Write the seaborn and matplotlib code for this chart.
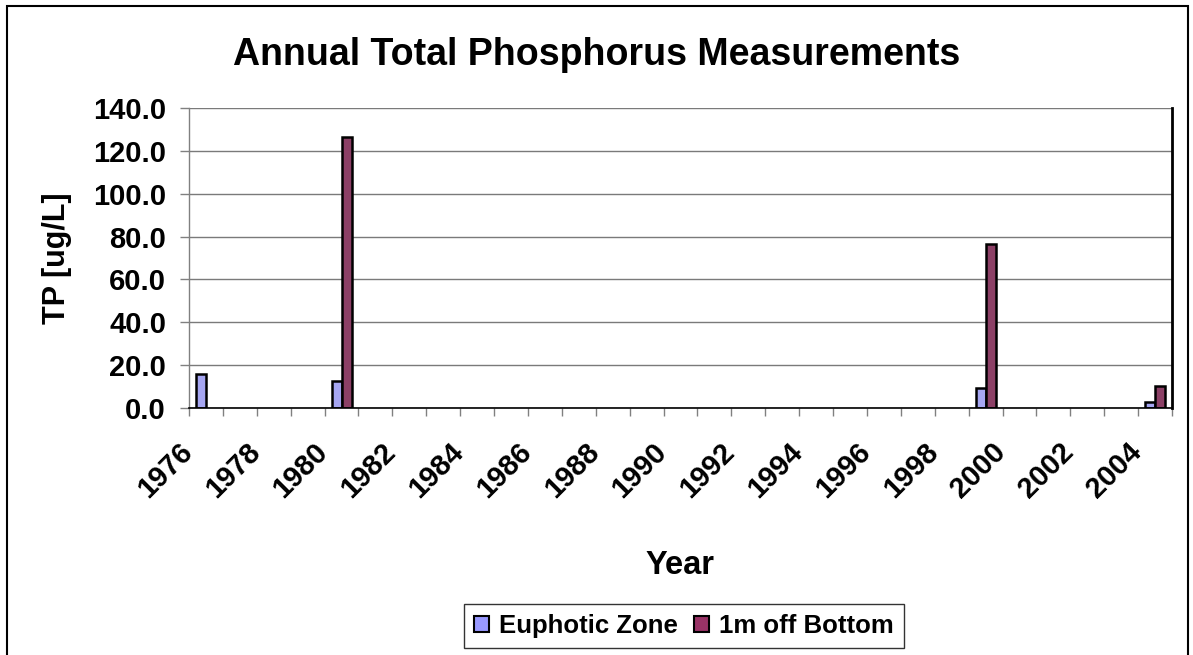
"""
plot.py
Annual total phosphorus bar chart (Excel-style clustered columns) with seaborn.
"""

import numpy as np
import pandas as pd
import matplotlib
matplotlib.use("Agg")
import matplotlib.pyplot as plt
import matplotlib.patches as mpatches
import matplotlib.transforms as mtransforms
import seaborn as sns

# ---------------------------------------------------------------------------
# Data
# ---------------------------------------------------------------------------
YEARS = [str(y) for y in range(1976, 2005)]
SERIES = ["Euphotic Zone", "1m off Bottom"]
COLORS = ["#9999FF", "#993366"]

euphotic_years = ["1976", "1980", "1999", "2004"]
euphotic_tp = [15.7, 12.6, 9.5, 2.9]

bottom_years = ["1980", "1999", "2004"]
bottom_tp = [126.3, 76.7, 10.4]

Y_TICKS = [0, 20, 40, 60, 80, 100, 120, 140]

# ---------------------------------------------------------------------------
# Build the long table seaborn wants
# ---------------------------------------------------------------------------
df = pd.concat([
    pd.DataFrame({"year": euphotic_years, "tp": euphotic_tp, "series": SERIES[0]}),
    pd.DataFrame({"year": bottom_years, "tp": bottom_tp, "series": SERIES[1]}),
], ignore_index=True)

sns.set_style("white")
plt.rcParams["font.family"] = ["Liberation Sans", "DejaVu Sans"]
plt.rcParams["font.weight"] = "bold"
for key in ("text.color", "axes.labelcolor", "xtick.labelcolor", "ytick.labelcolor"):
    plt.rcParams[key] = "black"

W, H = 1193, 655
fig = plt.figure(figsize=(W / 100, H / 100), dpi=100)
fig.patch.set_facecolor("white")

# plot area in pixels: left 189, right 1172, top 108, bottom 408
ax = fig.add_axes([189 / W, 1 - 408 / H, 983 / W, 300 / H])

sns.barplot(data=df, x="year", y="tp", hue="series",
            order=YEARS, hue_order=SERIES, palette=COLORS,
            width=0.59, gap=0, errorbar=None,
            edgecolor="black", linewidth=1.8, ax=ax, legend=False)

# y axis
ax.set_ylim(0, 140)
ax.set_yticks(Y_TICKS)
ax.set_yticklabels([f"{v:.1f}" for v in Y_TICKS], fontsize=21, fontweight="bold")
ax.yaxis.grid(True, color="#7a7a7a", linewidth=1.0)
ax.set_axisbelow(True)
ax.tick_params(axis="y", which="major", left=True, direction="out", length=6.5,
               width=1, color="#808080", pad=10, labelcolor="black")

# x axis: labels on every other year, tick marks on category boundaries
ax.set_xlim(-0.5, len(YEARS) - 0.5)
label_pos = list(range(0, len(YEARS), 2))
ax.set_xticks(label_pos)
ax.set_xticklabels([YEARS[i] for i in label_pos], fontsize=21, fontweight="bold",
                   rotation=45, ha="right", va="center", rotation_mode="anchor")
ax.set_xticks(np.arange(-0.5, len(YEARS), 1), minor=True)
ax.tick_params(axis="x", which="major", bottom=True, length=0, pad=28.5,
               labelcolor="black")
ax.tick_params(axis="x", which="minor", bottom=True, direction="out", length=6,
               width=1, color="#808080")
shift = mtransforms.ScaledTranslation(-0.18, 0, fig.dpi_scale_trans)
for lbl in ax.get_xticklabels():
    lbl.set_transform(lbl.get_transform() + shift)

# spines
ax.spines["top"].set_visible(False)
ax.spines["left"].set_color("#808080")
ax.spines["left"].set_linewidth(1)
ax.spines["bottom"].set_color("black")
ax.spines["bottom"].set_linewidth(1.2)
ax.spines["right"].set_color("black")
ax.spines["right"].set_linewidth(2)

# labels and title
ax.set_xlabel("Year", fontsize=23.5, fontweight="bold", va="center", color="black")
ax.xaxis.set_label_coords(0.5, (408 - 565) / 300)
ax.set_ylabel("TP [ug/L]", fontsize=22, fontweight="bold", va="center", color="black")
ax.yaxis.set_label_coords((57 - 189) / 983, 0.5)
fig.text(0.5, 1 - 55 / H, "Annual Total Phosphorus Measurements",
         ha="center", va="center", fontsize=27, fontweight="bold", color="black")

# legend
handles = [mpatches.Patch(facecolor=c, edgecolor="black", linewidth=1.5)
           for c in COLORS]
leg = fig.legend(handles, SERIES, ncol=2, loc="center",
                 bbox_to_anchor=(684 / W, 1 - 626 / H),
                 frameon=True, fancybox=False, edgecolor="black",
                 fontsize=18.5, handlelength=0.6, handleheight=0.6,
                 handletextpad=0.4, columnspacing=0.6, borderpad=0.4)
leg.get_frame().set_linewidth(1)
for t in leg.get_texts():
    t.set_fontweight("bold")
    t.set_color("black")

# chart border (Excel chart area)
fig.add_artist(mpatches.Rectangle((7 / W, -0.05), 1181 / W, 1.05 - 6 / H,
                                  transform=fig.transFigure, fill=False,
                                  edgecolor="black", linewidth=1.5))

fig.savefig("out.png", dpi=100)
plt.close(fig)
